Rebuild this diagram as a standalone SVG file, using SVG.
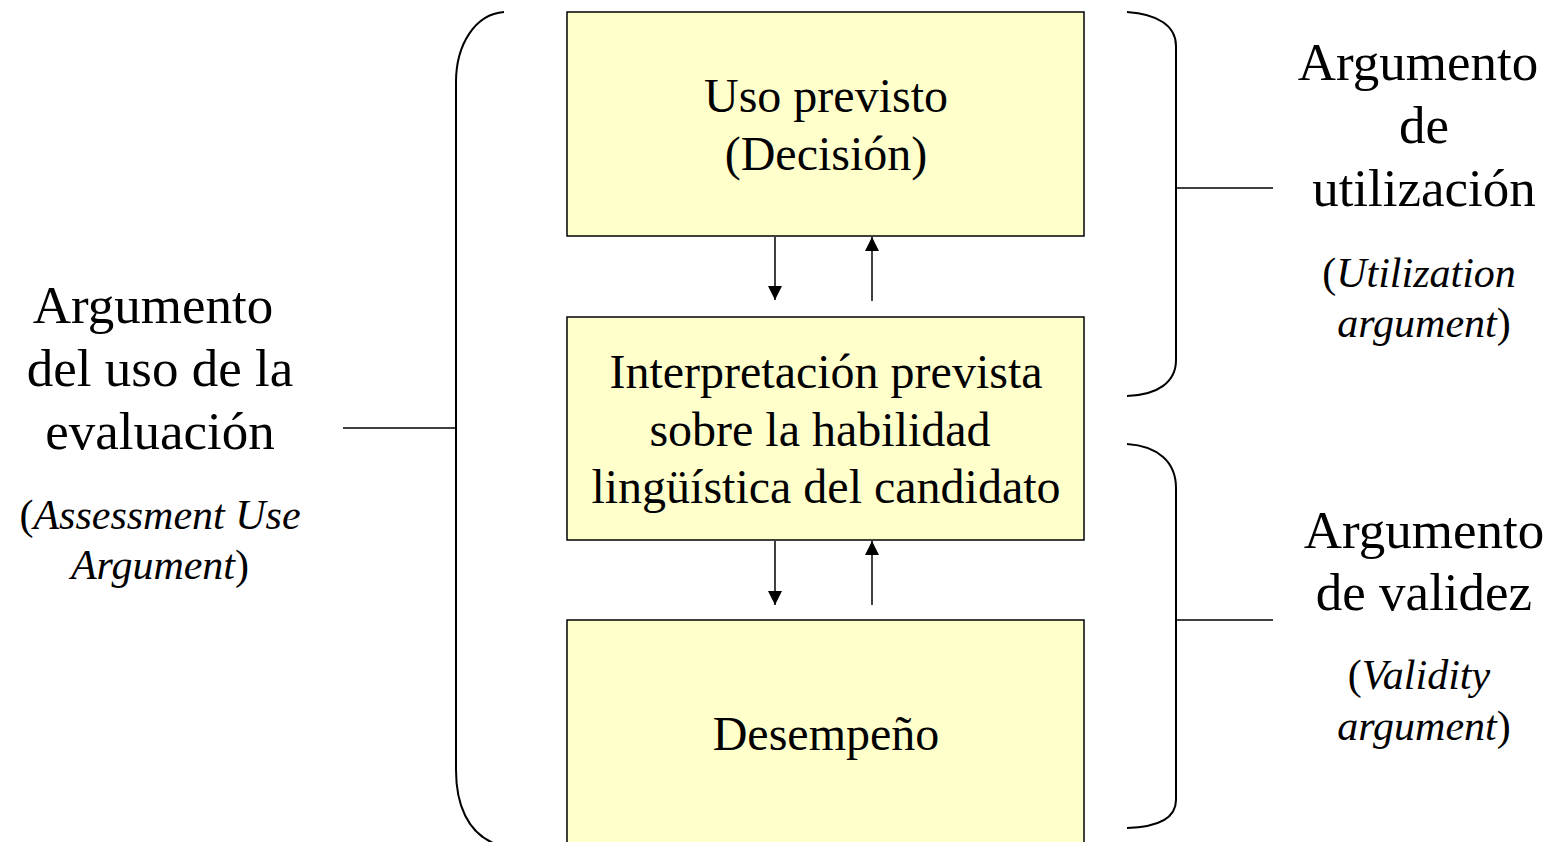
<svg xmlns="http://www.w3.org/2000/svg" width="1552" height="842" viewBox="0 0 1552 842">
<style>
.box{fill:#FFFFCC;stroke:#000;stroke-width:1.5}
.t{font-family:"Liberation Serif","Times New Roman",serif;fill:#000;text-anchor:middle}
.bt{font-size:48px}
.st{font-size:53px}
.it{font-size:42px}
.i{font-style:italic}
.br{fill:none;stroke:#000;stroke-width:2}
.ln{fill:none;stroke:#000;stroke-width:1.5}
.ar{fill:none;stroke:#000;stroke-width:1.5;marker-end:url(#ah)}
</style>
<defs>
<marker id="ah" viewBox="0 0 10 10" refX="10" refY="5" markerWidth="14" markerHeight="14" markerUnits="userSpaceOnUse" orient="auto">
<path d="M0,0 L10,5 L0,10 z" fill="#000"/>
</marker>
</defs>
<rect width="1552" height="842" fill="#fff"/>
<g id="box-uso">
<rect class="box" x="567" y="12" width="517" height="224"/>
<text class="t bt" x="826" y="112">Uso previsto</text>
<text class="t bt" x="826" y="170">(Decisión)</text>
</g>
<g id="box-interp">
<rect class="box" x="567" y="317" width="517" height="223"/>
<text class="t bt" x="826" y="388">Interpretación prevista</text>
<text class="t bt" x="820" y="446">sobre la habilidad</text>
<text class="t bt" x="826" y="503">lingüística del candidato</text>
</g>
<g id="box-desempeno">
<rect class="box" x="567" y="620" width="517" height="240"/>
<text class="t bt" x="826" y="750">Desempeño</text>
</g>
<g id="label-aua">
<text class="t st" x="153" y="323">Argumento</text>
<text class="t st" x="160" y="386">del uso de la</text>
<text class="t st" x="160" y="449">evaluación</text>
<text class="t it" x="160" y="529">(<tspan class="i">Assessment Use</tspan></text>
<text class="t it" x="160" y="579"><tspan class="i">Argument</tspan>)</text>
</g>
<g id="label-util">
<text class="t st" x="1418" y="80">Argumento</text>
<text class="t st" x="1424" y="143">de</text>
<text class="t st" x="1424" y="206">utilización</text>
<text class="t it" x="1419" y="287">(<tspan class="i">Utilization</tspan></text>
<text class="t it" x="1424" y="337"><tspan class="i">argument</tspan>)</text>
</g>
<g id="label-valid">
<text class="t st" x="1424" y="548">Argumento</text>
<text class="t st" x="1424" y="610">de validez</text>
<text class="t it" x="1419" y="689">(<tspan class="i">Validity</tspan></text>
<text class="t it" x="1424" y="740"><tspan class="i">argument</tspan>)</text>
</g>
<g id="connectors">
<path class="br" d="M504,12 C475,14 456,45 456,82 L456,770 C456,805 468,832 493,843"/>
<path class="br" d="M1127,12 C1158,14 1176,26 1176,46 L1176,360 C1176,382 1158,395 1127,396"/>
<path class="br" d="M1127,444 C1158,446 1176,462 1176,488 L1176,800 C1176,818 1158,827 1127,828"/>
<line class="ln" x1="343" y1="428" x2="456" y2="428"/>
<line class="ln" x1="1176" y1="188" x2="1273" y2="188"/>
<line class="ln" x1="1176" y1="620" x2="1273" y2="620"/>
<line class="ar" x1="775" y1="237" x2="775" y2="300"/>
<line class="ar" x1="872" y1="301" x2="872" y2="237"/>
<line class="ar" x1="775" y1="541" x2="775" y2="605"/>
<line class="ar" x1="872" y1="605" x2="872" y2="541"/>
</g>
</svg>
